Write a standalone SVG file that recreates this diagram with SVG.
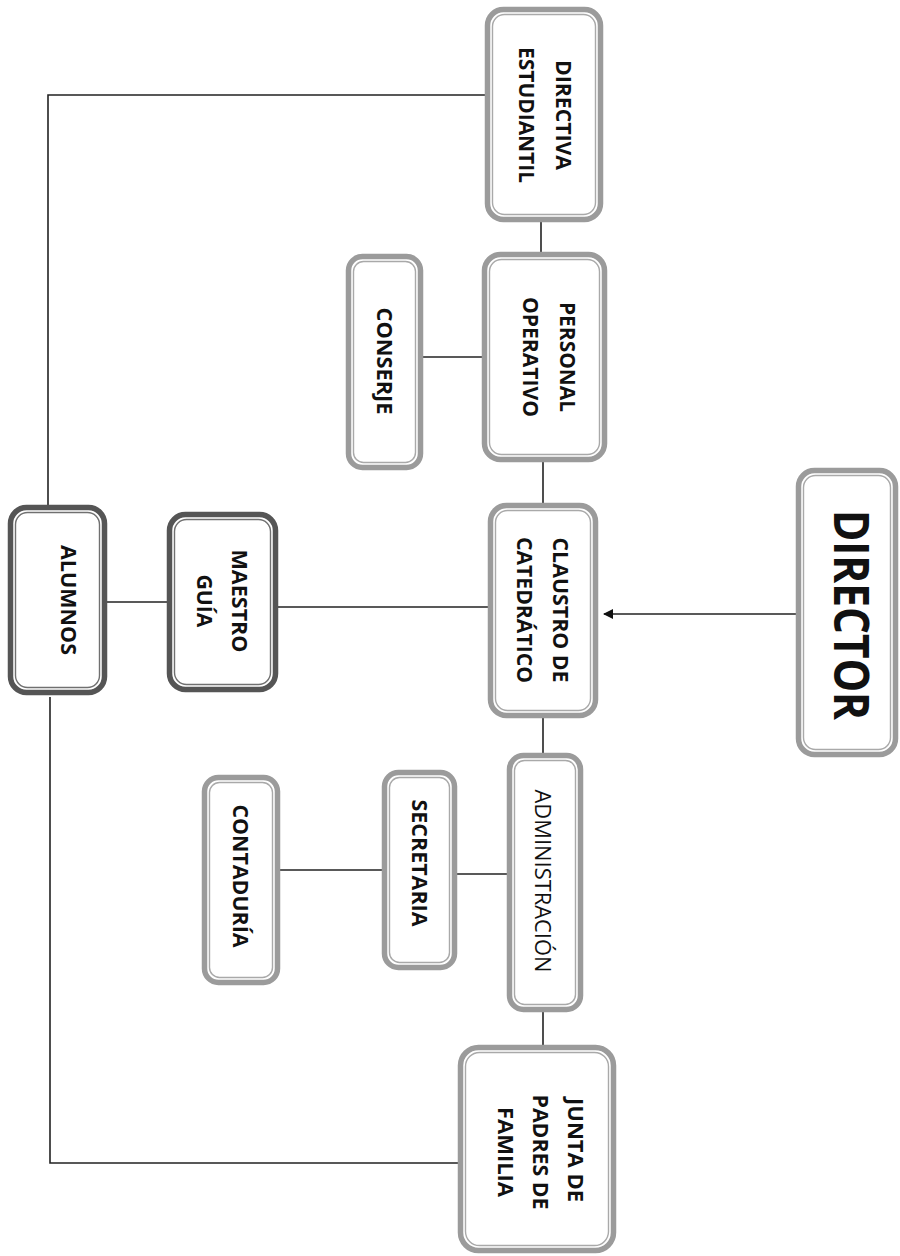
<svg xmlns="http://www.w3.org/2000/svg" width="900" height="1256" viewBox="0 0 900 1256">
<defs>
<style>
.bg{fill:#ffffff}
.o{fill:#ffffff;stroke:#9b9b9b;stroke-width:5.5}
.i{fill:none;stroke:#a9a9a9;stroke-width:1.4}
.od{fill:#ffffff;stroke:#555555;stroke-width:5.5}
.id{fill:none;stroke:#707070;stroke-width:1.4}
.t{font-family:"Open Sans","DejaVu Sans",sans-serif;font-weight:700;font-size:22px;fill:#111111;text-anchor:middle}
.r{font-family:"Open Sans","DejaVu Sans",sans-serif;font-weight:400;font-size:22px;fill:#111111;text-anchor:middle}
.big{font-family:"Open Sans","DejaVu Sans",sans-serif;font-weight:700;font-size:48px;fill:#111111;text-anchor:middle}
.c{fill:none;stroke:#222222;stroke-width:1.6}
</style>
<marker id="arr" viewBox="0 0 10 10" refX="9" refY="5" markerWidth="10" markerHeight="10" markerUnits="userSpaceOnUse" orient="auto">
<path d="M0,0 L10,5 L0,10 z" fill="#111111"/>
</marker>
</defs>
<rect class="bg" x="0" y="0" width="900" height="1256"/>

<g id="connectors">
<polyline class="c" points="485,95 48,95 48,505"/>
<polyline class="c" points="458,1163 50,1163 50,697"/>
<line class="c" x1="541" y1="222" x2="541" y2="252"/>
<line class="c" x1="543" y1="462" x2="543" y2="503"/>
<line class="c" x1="543" y1="718" x2="543" y2="753"/>
<line class="c" x1="543" y1="1012" x2="543" y2="1045"/>
<line class="c" x1="423" y1="357" x2="482" y2="357"/>
<line class="c" x1="107" y1="602" x2="167" y2="602"/>
<line class="c" x1="278" y1="607" x2="488" y2="607"/>
<line class="c" x1="796" y1="614" x2="604" y2="614" marker-end="url(#arr)"/>
<line class="c" x1="280" y1="870" x2="382" y2="870"/>
<line class="c" x1="457" y1="874" x2="507" y2="874"/>
</g>

<g id="directiva">
<rect class="o" x="487.5" y="9.5" width="113" height="210" rx="16"/>
<rect class="i" x="492.5" y="14.5" width="103" height="200" rx="12"/>
<text class="t" transform="translate(556,115) rotate(90)" textLength="110" lengthAdjust="spacingAndGlyphs">DIRECTIVA</text>
<text class="t" transform="translate(519,115) rotate(90)" textLength="136" lengthAdjust="spacingAndGlyphs">ESTUDIANTIL</text>
</g>

<g id="personal">
<rect class="o" x="484.5" y="254.5" width="120" height="205" rx="16"/>
<rect class="i" x="489.5" y="259.5" width="110" height="195" rx="12"/>
<text class="t" transform="translate(560,357) rotate(90)" textLength="110" lengthAdjust="spacingAndGlyphs">PERSONAL</text>
<text class="t" transform="translate(523,357) rotate(90)" textLength="120" lengthAdjust="spacingAndGlyphs">OPERATIVO</text>
</g>

<g id="conserje">
<rect class="o" x="348.5" y="256.5" width="72" height="211" rx="14"/>
<rect class="i" x="353.5" y="261.5" width="62" height="201" rx="10"/>
<text class="t" transform="translate(377,361) rotate(90)" textLength="107" lengthAdjust="spacingAndGlyphs">CONSERJE</text>
</g>

<g id="claustro">
<rect class="o" x="490.5" y="505.5" width="105" height="210" rx="16"/>
<rect class="i" x="495.5" y="510.5" width="95" height="200" rx="12"/>
<text class="t" transform="translate(553,610) rotate(90)" textLength="145" lengthAdjust="spacingAndGlyphs">CLAUSTRO DE</text>
<text class="t" transform="translate(517,610) rotate(90)" textLength="146" lengthAdjust="spacingAndGlyphs">CATEDRÁTICO</text>
</g>

<g id="director">
<rect class="o" x="798.5" y="470.5" width="97" height="284" rx="16"/>
<rect class="i" x="803.5" y="475.5" width="87" height="274" rx="12"/>
<text class="big" transform="translate(834,615) rotate(90)" textLength="210" lengthAdjust="spacingAndGlyphs">DIRECTOR</text>
</g>

<g id="maestro">
<rect class="od" x="169.5" y="514.5" width="106" height="175" rx="16"/>
<rect class="id" x="174.5" y="519.5" width="96" height="165" rx="12"/>
<text class="t" transform="translate(232,601) rotate(90)" textLength="103" lengthAdjust="spacingAndGlyphs">MAESTRO</text>
<text class="t" transform="translate(197,601) rotate(90)" textLength="53" lengthAdjust="spacingAndGlyphs">GUÍA</text>
</g>

<g id="alumnos">
<rect class="od" x="10.5" y="507.5" width="94" height="185" rx="16"/>
<rect class="id" x="15.5" y="512.5" width="84" height="175" rx="12"/>
<text class="t" transform="translate(61,600) rotate(90)" textLength="110" lengthAdjust="spacingAndGlyphs">ALUMNOS</text>
</g>

<g id="administracion">
<rect class="o" x="509.5" y="755.5" width="71" height="254" rx="14"/>
<rect class="i" x="514.5" y="760.5" width="61" height="244" rx="10"/>
<text class="r" transform="translate(535,881) rotate(90)" textLength="183" lengthAdjust="spacingAndGlyphs">ADMINISTRACIÓN</text>
</g>

<g id="secretaria">
<rect class="o" x="384.5" y="772.5" width="70" height="195" rx="14"/>
<rect class="i" x="389.5" y="777.5" width="60" height="185" rx="10"/>
<text class="t" transform="translate(412,863) rotate(90)" textLength="127" lengthAdjust="spacingAndGlyphs">SECRETARIA</text>
</g>

<g id="contaduria">
<rect class="o" x="204.5" y="777.5" width="73" height="205" rx="14"/>
<rect class="i" x="209.5" y="782.5" width="63" height="195" rx="10"/>
<text class="t" transform="translate(233,876) rotate(90)" textLength="143" lengthAdjust="spacingAndGlyphs">CONTADURÍA</text>
</g>

<g id="junta">
<rect class="o" x="460.5" y="1047.5" width="153" height="203" rx="18"/>
<rect class="i" x="465.5" y="1052.5" width="143" height="193" rx="14"/>
<text class="t" transform="translate(568,1150) rotate(90)" textLength="104" lengthAdjust="spacingAndGlyphs">JUNTA DE</text>
<text class="t" transform="translate(533,1152) rotate(90)" textLength="115" lengthAdjust="spacingAndGlyphs">PADRES DE</text>
<text class="t" transform="translate(498,1152) rotate(90)" textLength="90" lengthAdjust="spacingAndGlyphs">FAMILIA</text>
</g>
</svg>
